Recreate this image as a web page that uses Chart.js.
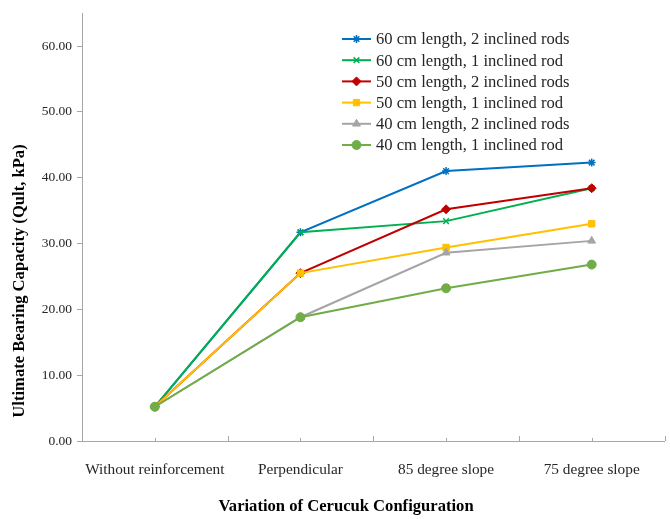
<!DOCTYPE html>
<html>
<head>
<meta charset="utf-8">
<script src="https://cdn.jsdelivr.net/npm/chart.js@4/dist/chart.umd.min.js"></script>
<style>
  body { margin: 0; background: #fff; }
  canvas { display: block; }
</style>
</head>
<body>
<canvas id="chart" width="670" height="519"></canvas>
<script>
// Категории по оси X
const categories = ['Without reinforcement', 'Perpendicular', '85 degree slope', '75 degree slope'];

// Названия серий
const seriesNames = [
  '60 cm length, 2 inclined rods',
  '60 cm length, 1 inclined rod',
  '50 cm length, 2 inclined rods',
  '50 cm length, 1 inclined rod',
  '40 cm length, 2 inclined rods',
  '40 cm length, 1 inclined rod'
];

// Значения (Qult, kPa)
const len60rods2 = [5.2, 31.7, 41.0, 42.3];
const len60rod1  = [5.2, 31.7, 33.4, 38.4];
const len50rods2 = [5.2, 25.5, 35.2, 38.4];
const len50rod1  = [5.2, 25.5, 29.4, 33.0];
const len40rods2 = [5.2, 18.8, 28.6, 30.4];
const len40rod1  = [5.2, 18.8, 23.2, 26.8];

// Деления оси Y
const yTicks = [0, 10, 20, 30, 40, 50, 60];

const seriesData = [len60rods2, len60rod1, len50rods2, len50rod1, len40rods2, len40rod1];
const colors = ['#0070C0', '#00B050', '#C00000', '#FFC000', '#A5A5A5', '#70AD47'];
const markers = ['star', 'crossRot', 'rectRot', 'rect', 'triangle', 'circle'];

const FONT = "'Liberation Serif', 'Times New Roman', serif";
const AXIS = '#A6A6A6';
const TEXT = '#262626';

Chart.defaults.font.family = FONT;

const datasets = seriesData.map((d, i) => ({
  label: seriesNames[i],
  data: d,
  borderColor: colors[i],
  backgroundColor: colors[i],
  borderWidth: 2,
  pointStyle: markers[i],
  pointRadius: markers[i] === 'star' || markers[i] === 'crossRot' ? 4 : 4.5,
  pointBorderWidth: markers[i] === 'star' || markers[i] === 'crossRot' ? 1.5 : 1,
  pointBackgroundColor: colors[i],
  pointBorderColor: colors[i],
  tension: 0,
  order: seriesData.length - i // последние серии сверху
}));

// Метки делений оси X (внутрь области) + подписи осей + легенда
const extras = {
  id: 'extras',
  afterDraw(chart) {
    const c = chart.ctx;
    const x = chart.scales.x;
    const area = chart.chartArea;
    c.save();
    c.strokeStyle = AXIS;
    c.lineWidth = 1;
    for (let i = 0; i <= categories.length; i++) {
      const px = Math.round(x.getPixelForValue(i - 0.5)) + 0.5;
      c.beginPath();
      c.moveTo(px, area.bottom);
      c.lineTo(px, area.bottom - 5);
      c.stroke();
    }
    for (let i = 0; i < categories.length; i++) {
      const px = Math.round(x.getPixelForValue(i)) + 0.5;
      c.beginPath();
      c.moveTo(px, area.bottom);
      c.lineTo(px, area.bottom - 3);
      c.stroke();
    }

    // подписи осей
    c.fillStyle = '#000';
    c.font = 'bold 16.6px ' + FONT;
    c.textAlign = 'center';
    c.textBaseline = 'middle';
    c.fillText('Variation of Cerucuk Configuration', 346, 507);
    c.save();
    c.translate(20, 281);
    c.rotate(-Math.PI / 2);
    c.fillText('Ultimate Bearing Capacity (Qult, kPa)', 0, 0);
    c.restore();

    // легенда
    c.font = '16.6px ' + FONT;
    c.textAlign = 'left';
    chart.data.datasets.forEach((ds, i) => {
      const y = 39 + i * 21.2;
      c.strokeStyle = ds.borderColor;
      c.lineWidth = 2;
      c.beginPath();
      c.moveTo(342, y);
      c.lineTo(371, y);
      c.stroke();
      c.fillStyle = ds.backgroundColor;
      c.lineWidth = ds.pointBorderWidth;
      Chart.helpers.drawPoint(c, {
        pointStyle: ds.pointStyle,
        radius: ds.pointRadius,
        rotation: 0,
        borderWidth: ds.pointBorderWidth
      }, 356.5, y);
      c.fillStyle = TEXT;
      c.fillText(ds.label, 376, y + 1);
    });
    c.restore();
  }
};

const chart = new Chart(document.getElementById('chart').getContext('2d'), {
  type: 'line',
  data: { labels: categories, datasets: datasets },
  options: {
    responsive: false,
    animation: false,
    layout: { padding: { top: 12, right: 5, left: 0, bottom: 0 } },
    plugins: {
      legend: { display: false },
      tooltip: { enabled: false }
    },
    scales: {
      x: {
        offset: true,
        grid: { display: false },
        border: { display: true, color: AXIS, width: 1 },
        ticks: { color: TEXT, font: { size: 15.3 }, padding: 12, maxRotation: 0, autoSkip: false },
        afterFit(s) { s.height = 78; }
      },
      y: {
        min: 0,
        max: 65,
        grid: { display: true, drawOnChartArea: false, drawTicks: true, tickLength: 5, color: AXIS },
        border: { display: true, color: AXIS, width: 1 },
        ticks: {
          color: TEXT,
          font: { size: 13.5 },
          padding: 5,
          callback: v => Number(v).toFixed(2)
        },
        afterBuildTicks(s) { s.ticks = yTicks.map(v => ({ value: v })); },
        afterFit(s) { s.width = 82; }
      }
    }
  },
  plugins: [extras]
});
</script>
</body>
</html>
